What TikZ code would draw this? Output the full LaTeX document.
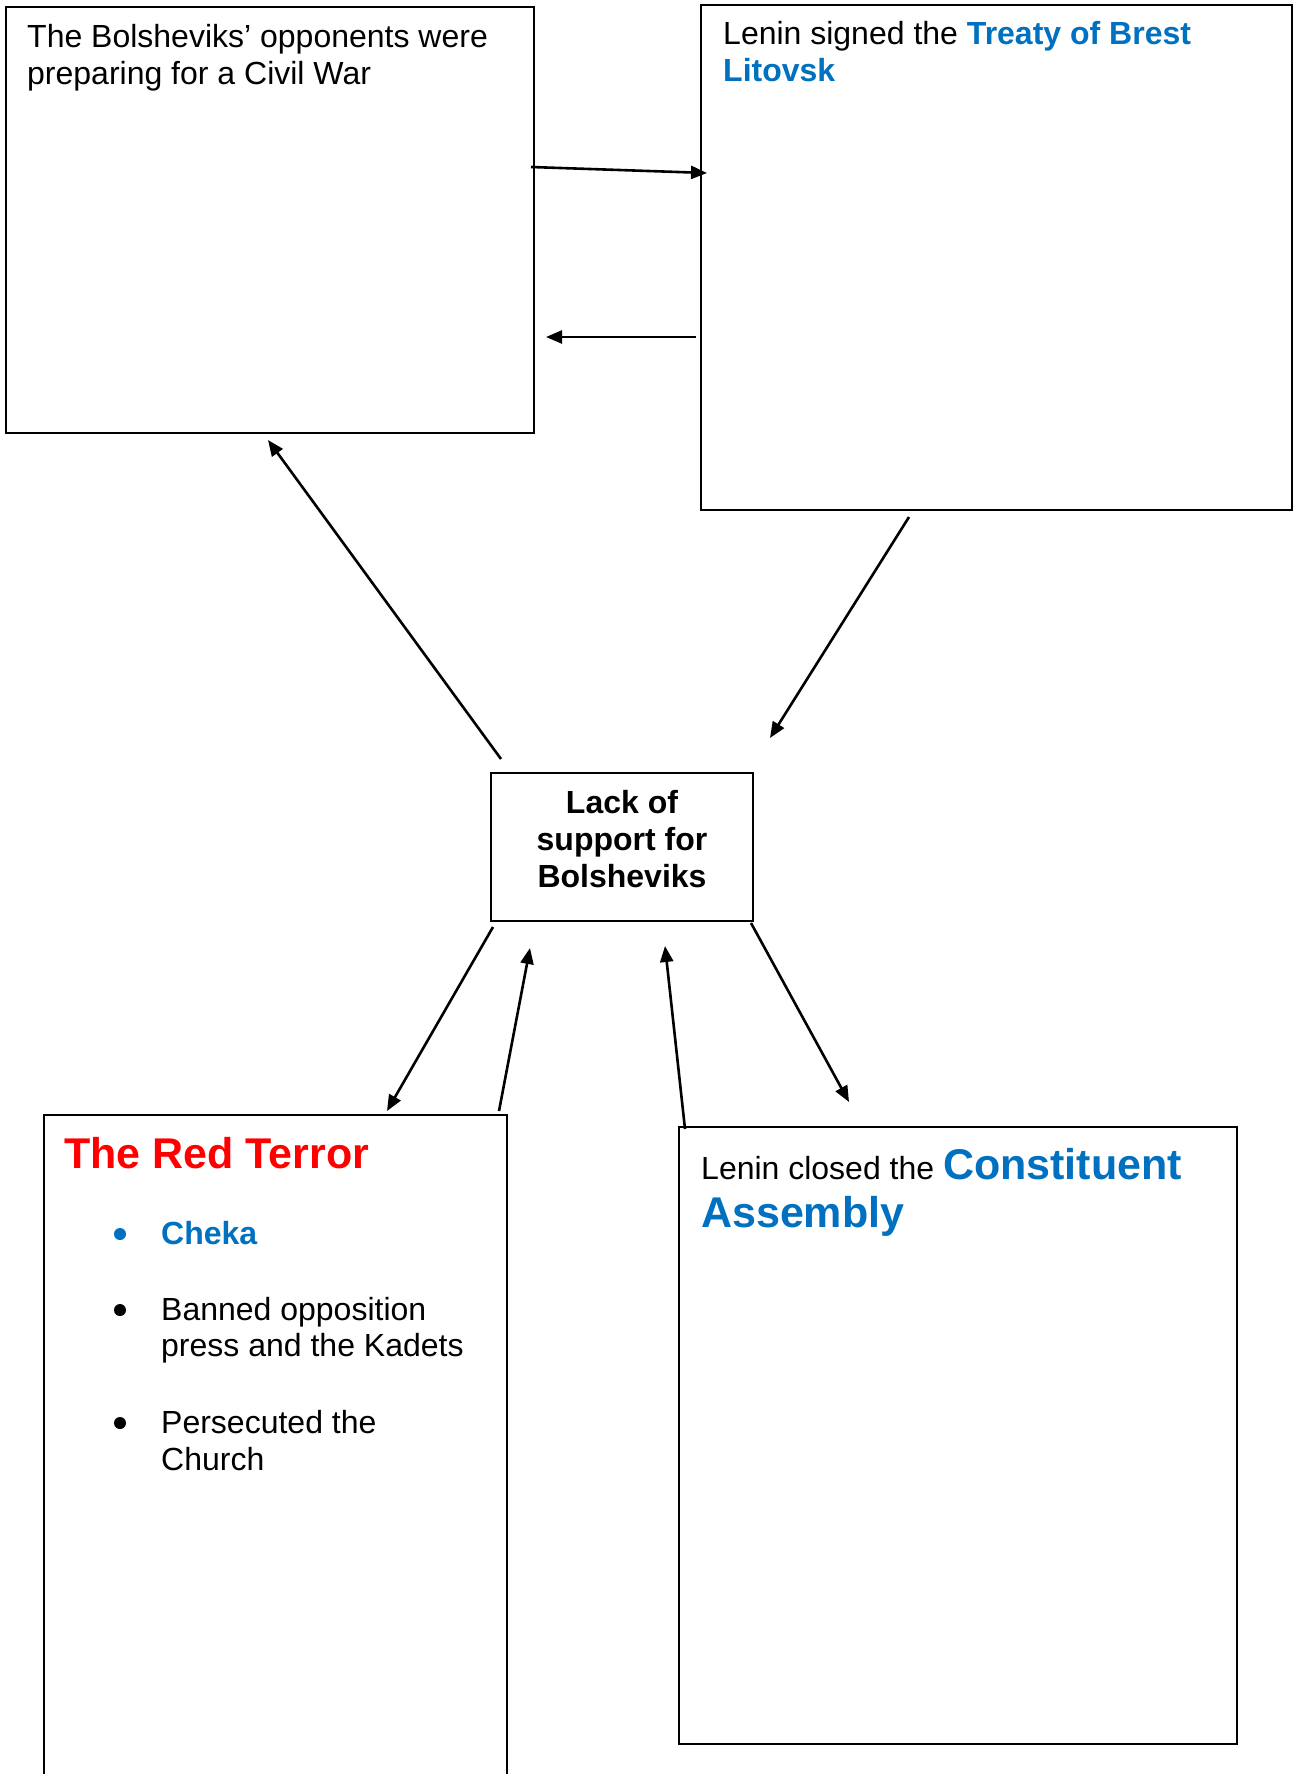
\documentclass[tikz,border=0pt]{standalone}
\usepackage{fontspec}
\setmainfont{Liberation Sans}
\usetikzlibrary{arrows.meta}
\definecolor{wordblue}{HTML}{0070C0}
\definecolor{wordred}{HTML}{FF0000}
\begin{document}
\begin{tikzpicture}[x=1pt,y=-1pt,
  box/.style={draw,line width=2pt,rectangle,inner sep=0pt},
  arr/.style={line width=2.6pt,-{Triangle[length=16pt,width=13pt]}},
  txt/.style={anchor=base west,inner sep=0pt,font=\fontsize{32}{37}\selectfont},
  ctxt/.style={anchor=base,inner sep=0pt,font=\fontsize{32}{37}\selectfont\bfseries},
  bigb/.style={font=\fontsize{43}{48}\selectfont\bfseries},
  bul/.style={circle,inner sep=0pt,minimum size=12pt}]
\fill[white] (0,0) rectangle (1293,1774);
\useasboundingbox (0,0) rectangle (1293,1774);
\clip (0,0) rectangle (1293,1774);

% boxes
\node[box,minimum width=528pt,minimum height=426pt] (b1) at (270,220) {};
\node[box,minimum width=591pt,minimum height=505pt] (b2) at (996.5,257.5) {};
\node[box,minimum width=262pt,minimum height=148pt] (ctr) at (622,847) {};
\node[box,minimum width=463pt,minimum height=690pt] (red) at (275.5,1460) {};
\node[box,minimum width=558pt,minimum height=617pt] (con) at (958,1435.5) {};

% texts
\node[txt] (t1a) at (27,48) {The Bolsheviks’ opponents were};
\node[txt] (t1b) at (27,85) {preparing for a Civil War};
\node[txt] (t2a) at (723,45) {Lenin signed the \textcolor{wordblue}{\bfseries Treaty of Brest}};
\node[txt] (t2b) at (723,82) {\textcolor{wordblue}{\bfseries Litovsk}};
\node[ctxt] (c1) at (622,813) {Lack of};
\node[ctxt] (c2) at (622,850) {support for};
\node[ctxt] (c3) at (622,887) {Bolsheviks};
\node[txt,bigb,text=wordred] (r0) at (64,1168) {The Red Terror};
\node[bul,fill=wordblue] (bu1) at (120,1234) {};
\node[txt,text=wordblue,font=\fontsize{32}{37}\selectfont\bfseries] (r1) at (161,1244) {Cheka};
\node[bul,fill=black] (bu2) at (120,1310) {};
\node[txt] (r2a) at (161,1320) {Banned opposition};
\node[txt] (r2b) at (161,1356) {press and the Kadets};
\node[bul,fill=black] (bu3) at (120,1423) {};
\node[txt] (r3a) at (161,1433) {Persecuted the};
\node[txt] (r3b) at (161,1470) {Church};
\node[txt] (k1) at (701,1179) {Lenin closed the \textcolor{wordblue}{\fontsize{43}{48}\selectfont\bfseries Constituent}};
\node[txt,bigb,text=wordblue] (k2) at (701,1227) {Assembly};

% connector end points
\coordinate (a1s) at (531,167);  \coordinate (a1e) at (707,173);
\coordinate (a2s) at (696,337);  \coordinate (a2e) at (546,337);
\coordinate (a3s) at (501,759);  \coordinate (a3e) at (268,440);
\coordinate (a4s) at (909,517);  \coordinate (a4e) at (770,738);
\coordinate (a5s) at (493,927);  \coordinate (a5e) at (387,1111);
\coordinate (a6s) at (499,1111); \coordinate (a6e) at (530,948);
\coordinate (a7s) at (685,1129); \coordinate (a7e) at (665,946);
\coordinate (a8s) at (751,923);  \coordinate (a8e) at (849,1102);

\draw[arr] (a1s) -- (a1e);
\draw[arr] (a2s) -- (a2e);
\draw[arr] (a3s) -- (a3e);
\draw[arr] (a4s) -- (a4e);
\draw[arr] (a5s) -- (a5e);
\draw[arr] (a6s) -- (a6e);
\draw[arr] (a7s) -- (a7e);
\draw[arr] (a8s) -- (a8e);
\end{tikzpicture}
\end{document}
